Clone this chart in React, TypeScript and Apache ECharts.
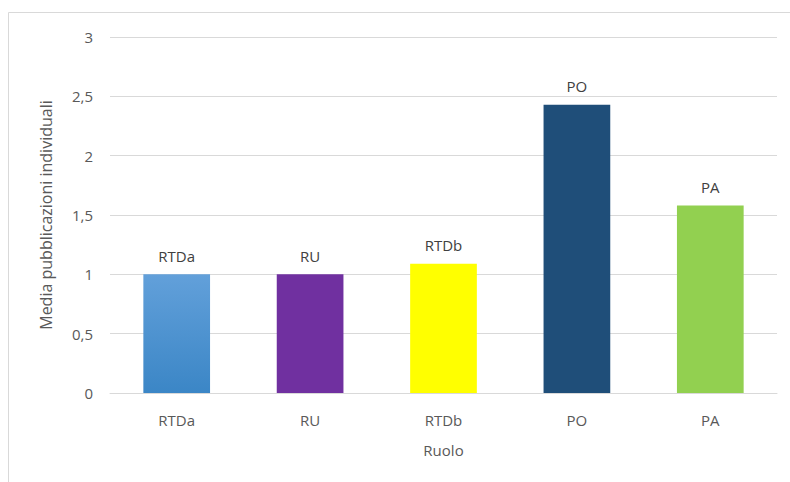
import React, { useEffect, useRef } from "react";
import * as echarts from "echarts";

const categories = ["RTDa", "RU", "RTDb", "PO", "PA"];
const values = [1.0, 1.0, 1.09, 2.43, 1.58];
const barColors: any[] = [
  new echarts.graphic.LinearGradient(0, 0, 0, 1, [
    { offset: 0, color: "#62a0da" },
    { offset: 1, color: "#3b86c6" },
  ]),
  "#7030a0",
  "#ffff00",
  "#1f4e79",
  "#92d050",
];
const yTicks = [0, 0.5, 1, 1.5, 2, 2.5, 3];

const FONT = "Open Sans";

export default function App() {
  const ref = useRef<HTMLDivElement>(null);
  useEffect(() => {
    const chart = echarts.init(ref.current!, null, { renderer: "svg" });
    chart.setOption({
      animation: false,
      backgroundColor: "#ffffff",
      textStyle: { fontFamily: FONT },
      graphic: [
        {
          type: "rect",
          shape: { x: 8.5, y: 12.5, width: 800, height: 500 },
          style: { fill: "none", stroke: "#d9d9d9", lineWidth: 1 },
          silent: true,
        },
      ],
      grid: { left: 110, right: 13, top: 37, bottom: 89 },
      xAxis: {
        type: "category",
        data: categories,
        name: "Ruolo",
        nameLocation: "middle",
        nameGap: 49,
        nameTextStyle: { color: "#595959", fontSize: 15, fontFamily: FONT },
        axisLine: { lineStyle: { color: "#d9d9d9" } },
        axisTick: { show: false },
        axisLabel: { color: "#595959", fontSize: 15, margin: 19, fontFamily: FONT },
      },
      yAxis: {
        type: "value",
        min: yTicks[0],
        max: yTicks[yTicks.length - 1],
        interval: 0.5,
        name: "Media pubblicazioni individuali",
        nameLocation: "middle",
        nameGap: 56,
        nameTextStyle: { color: "#595959", fontSize: 16, fontFamily: FONT },
        axisLabel: {
          color: "#595959",
          fontSize: 15,
          margin: 17,
          fontFamily: FONT,
          formatter: (v: number) => String(v).replace(".", ","),
        },
        splitLine: { lineStyle: { color: "#d9d9d9" } },
      },
      series: [
        {
          type: "bar",
          barWidth: "50%",
          data: values.map((v, i) => ({
            value: v,
            itemStyle: { color: barColors[i] },
          })),
          label: {
            show: true,
            position: "top",
            distance: 11,
            color: "#404040",
            fontSize: 15,
            fontFamily: FONT,
            formatter: (p: any) => p.name,
          },
        },
      ],
    });
    return () => chart.dispose();
  }, []);
  return <div ref={ref} style={{ width: 790, height: 482, position: "absolute", left: 0, top: 0 }} />;
}
